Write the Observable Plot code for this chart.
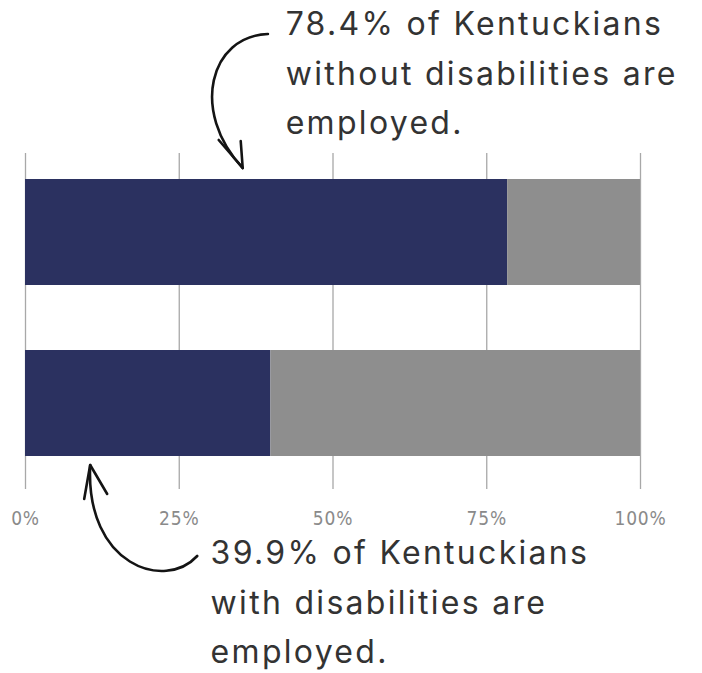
<!DOCTYPE html>
<html>
<head>
<meta charset="utf-8">
<script src="https://cdn.jsdelivr.net/npm/d3@7"></script>
<script src="https://cdn.jsdelivr.net/npm/@observablehq/plot@0.6"></script>
<style>
  html, body { margin: 0; padding: 0; background: #fff; }
  #chart svg { display: block; }
  #chart g[aria-label="text"] text { letter-spacing: 2.3px; }
  #chart g[aria-label="x-axis tick label"] text { letter-spacing: 0.8px; }
</style>
</head>
<body>
<div id="chart"></div>
<script>
// ---- data ----
const categories = ["Without disabilities", "With disabilities"];
const employedPct = [78.4, 39.9];
const statuses = ["Employed", "Not employed"];
const statusColors = ["#2b3160", "#8e8e8e"];
const tickValues = [0, 25, 50, 75, 100];
const tickLabels = ["0%", "25%", "50%", "75%", "100%"];
const noteTexts = [
  "78.4% of Kentuckians\nwithout disabilities are\nemployed.",
  "39.9% of Kentuckians\nwith disabilities are\nemployed."
];
const noteX = [42.3, 30.1];        // percent position where each note starts
const noteDy = [-232, 126];        // vertical offset of each note from its bar
// arrow bezier points [percent, px offset from bar edge]: start, control 1, control 2, tip
const arrowTopPts = [[39.5, -145], [30.1, -143], [26.8, -68], [35.4, -11]];
const arrowBottomPts = [[28.0, 100], [22.8, 135], [9.8, 110], [10.6, 9]];

// ---- table ----
const rows = [];
categories.forEach((c, i) => {
  rows.push({category: c, status: statuses[0], value: employedPct[i]});
  rows.push({category: c, status: statuses[1], value: 100 - employedPct[i]});
});
const notes = categories.map((c, i) => ({category: c, text: noteTexts[i], x: noteX[i]}));

function arrows(index, scales) {
  const x = scales.x, y = scales.y;
  const bw = typeof y.bandwidth === "function" ? y.bandwidth() : scales.scales.y.bandwidth;
  const top = y(categories[0]);
  const bottom = y(categories[1]) + bw;
  const g = d3.create("svg:g")
    .attr("fill", "none").attr("stroke", "#141414").attr("stroke-width", 2.6)
    .attr("stroke-linecap", "round").attr("stroke-linejoin", "round");
  const bez = (pts) => {
    const p = d3.path();
    p.moveTo(...pts[0]);
    p.bezierCurveTo(...pts[1], ...pts[2], ...pts[3]);
    return p.toString();
  };
  const p1 = arrowTopPts.map(([v, d]) => [x(v), top + d]);
  const p2 = arrowBottomPts.map(([v, d]) => [x(v), bottom + d]);
  g.append("path").attr("d", bez(p1));
  g.append("path").attr("d", bez(p2));
  const t1 = p1[3], t2 = p2[3];
  g.append("path").attr("d", d3.line()([[t1[0] - 24, t1[1] - 28], t1, [t1[0] - 2, t1[1] - 27]]));
  g.append("path").attr("d", d3.line()([[t2[0] - 6, t2[1] + 34], t2, [t2[0] + 17, t2[1] + 29]]));
  return g.node();
}

const noteStyle = {
  x: "x", y: "category", text: "text",
  textAnchor: "start", lineAnchor: "top",
  fontSize: 32, lineHeight: 1.54,
  fontFamily: "Inter, 'Open Sans', sans-serif",
  fill: "#333"
};

const plot = Plot.plot({
  width: 702,
  height: 673,
  marginLeft: 25,
  marginRight: 62,
  marginTop: 153,
  marginBottom: 184,
  style: {background: "#fff"},
  x: {domain: [0, 100], axis: null},
  y: {domain: categories, axis: null, paddingInner: 0.378, paddingOuter: 0.166, align: 0.44},
  color: {domain: statuses, range: statusColors},
  marks: [
    Plot.gridX(tickValues, {stroke: "#a8a8a8", strokeOpacity: 1, strokeWidth: 1.3}),
    Plot.barX(rows, Plot.stackX({x: "value", y: "category", fill: "status"})),
    Plot.axisX({
      ticks: tickValues,
      tickFormat: (d, i) => tickLabels[i],
      tickSize: 0,
      tickPadding: 22,
      fontSize: 19,
      fontFamily: "'DejaVu Sans Condensed', 'Liberation Sans Narrow', sans-serif",
      color: "#8a8a8a"
    }),
    Plot.text([notes[0]], {...noteStyle, dy: noteDy[0]}),
    Plot.text([notes[1]], {...noteStyle, dy: noteDy[1]}),
    arrows
  ]
});
document.getElementById("chart").appendChild(plot);
</script>
</body>
</html>
